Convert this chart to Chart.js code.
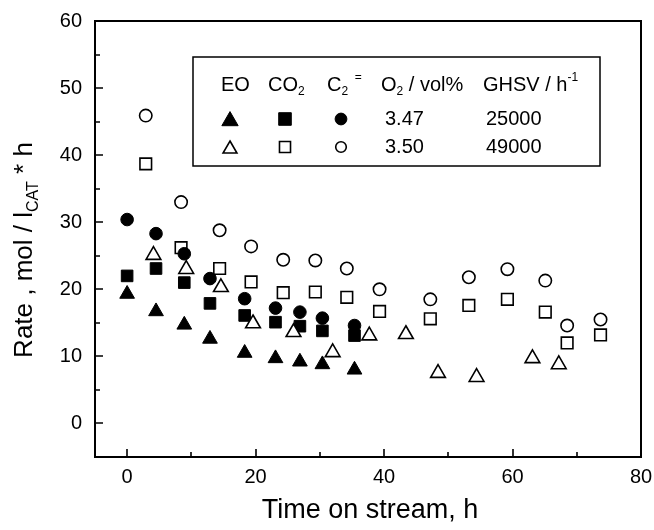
<!DOCTYPE html>
<html>
<head>
<meta charset="utf-8">
<title>Rate vs time on stream</title>
<script src="https://cdn.jsdelivr.net/npm/chart.js@4.4.1/dist/chart.umd.min.js"></script>
<style>
  html, body { margin: 0; padding: 0; background: #fff; }
  #wrap { width: 654px; height: 530px; }
</style>
</head>
<body>
<div id="wrap"><canvas id="rateChart" width="654" height="530"></canvas></div>
<script>
// run at 3.47 vol% O2, GHSV 25000 h-1 (filled symbols)
const timeLow = [0, 4.5, 8.9, 12.9, 18.3, 23.1, 26.9, 30.4, 35.4];
const eoLow = [19.3, 16.7, 14.7, 12.6, 10.5, 9.7, 9.2, 8.8, 8.0];
const co2Low = [22.0, 23.1, 21.0, 17.9, 16.1, 15.1, 14.5, 13.8, 13.1];
const c2Low = [30.4, 28.3, 25.3, 21.6, 18.6, 17.2, 16.6, 15.7, 14.6];

// run at 3.50 vol% O2, GHSV 49000 h-1 (open symbols)
const timeEoHigh = [4.1, 9.2, 14.6, 19.6, 25.9, 32.0, 37.7, 43.4, 48.4, 54.4, 63.1, 67.2];
const eoHigh = [25.1, 23.0, 20.3, 14.9, 13.6, 10.6, 13.1, 13.3, 7.5, 6.9, 9.7, 8.8];
const timeHigh = [2.9, 8.4, 14.4, 19.3, 24.3, 29.3, 34.2, 39.3, 47.2, 53.2, 59.2, 65.1, 68.5, 73.7];
const co2High = [38.7, 26.2, 23.1, 21.1, 19.5, 19.6, 18.8, 16.7, 15.6, 17.6, 18.5, 16.6, 12.0, 13.2];
const c2High = [45.9, 33.0, 28.8, 26.4, 24.4, 24.3, 23.1, 20.0, 18.5, 21.8, 23.0, 21.3, 14.6, 15.5];

const xTicks = [0, 20, 40, 60, 80];
const yTicks = [0, 10, 20, 30, 40, 50, 60];

const FONT = "'Liberation Sans', Arial, Helvetica, sans-serif";

function pts(xs, ys) {
  return xs.map((x, i) => ({ x: x, y: ys[i] }));
}

function series(label, xs, ys, style, filled, radius, order) {
  return {
    label: label,
    data: pts(xs, ys),
    pointStyle: style,
    pointRadius: radius,
    pointHoverRadius: radius,
    pointBackgroundColor: filled ? '#000' : '#fff',
    pointBorderColor: '#000',
    pointBorderWidth: filled ? 1 : 1.6,
    showLine: false,
    order: order
  };
}

// text with sub/superscripts: parts = [[text, 'sub'|'sup'|undefined], ...]
function richWidth(ctx, parts, size) {
  let w = 0;
  parts.forEach(p => {
    ctx.font = (p[1] ? Math.round(size * 0.62) : size) + 'px ' + FONT;
    w += ctx.measureText(p[0]).width;
  });
  return w;
}

function drawRich(ctx, parts, x, y, size, align, baseline) {
  let cx = x;
  if (align === 'center') cx = x - richWidth(ctx, parts, size) / 2;
  ctx.textBaseline = baseline || 'middle';
  ctx.textAlign = 'left';
  parts.forEach(p => {
    let dy = 0;
    if (p[1] === 'sub') dy = size * 0.32;
    if (p[1] === 'sup') dy = -size * 0.38;
    ctx.font = (p[1] ? Math.round(size * 0.62) : size) + 'px ' + FONT;
    ctx.fillText(p[0], cx, y + dy);
    cx += ctx.measureText(p[0]).width;
  });
}

function glyph(ctx, style, filled, x, y, r) {
  ctx.beginPath();
  if (style === 'triangle') {
    ctx.moveTo(x, y - r);
    ctx.lineTo(x + r * Math.sin(2 * Math.PI / 3), y + r / 2);
    ctx.lineTo(x - r * Math.sin(2 * Math.PI / 3), y + r / 2);
    ctx.closePath();
  } else if (style === 'rect') {
    const s = r * Math.SQRT1_2;
    ctx.rect(x - s, y - s, 2 * s, 2 * s);
  } else {
    ctx.arc(x, y, r, 0, Math.PI * 2);
  }
  ctx.fillStyle = filled ? '#000' : '#fff';
  ctx.fill();
  ctx.lineWidth = filled ? 1 : 1.6;
  ctx.strokeStyle = '#000';
  ctx.stroke();
}

// box around the plot, inward tick marks and axis titles
const framePlugin = {
  id: 'frame',
  afterDraw(chart) {
    const ctx = chart.ctx;
    const a = chart.chartArea;
    const xs = chart.scales.x, ys = chart.scales.y;
    ctx.save();
    ctx.strokeStyle = '#000';
    ctx.lineWidth = 2;
    ctx.strokeRect(a.left, a.top, a.right - a.left, a.bottom - a.top);
    ctx.lineWidth = 1.6;
    ctx.beginPath();
    for (let v = 0; v <= 80; v += 10) {
      const px = Math.round(xs.getPixelForValue(v));
      const len = v % 20 === 0 ? 8 : 5;
      ctx.moveTo(px, a.bottom);
      ctx.lineTo(px, a.bottom - len);
    }
    for (let v = 0; v <= 60; v += 5) {
      const py = Math.round(ys.getPixelForValue(v));
      const len = v % 10 === 0 ? 8 : 5;
      ctx.moveTo(a.left, py);
      ctx.lineTo(a.left + len, py);
    }
    ctx.stroke();

    ctx.fillStyle = '#000';
    drawRich(ctx, [['Time on stream, h']], 370, 518, 27, 'center', 'alphabetic');
    ctx.translate(25, 250);
    ctx.rotate(-Math.PI / 2);
    drawRich(ctx, [['Rate , mol / l'], ['CAT', 'sub'], [' * h']], 0, 0, 26, 'center');
    ctx.restore();
  }
};

// table-style key in the upper right
const keyPlugin = {
  id: 'key',
  afterDatasetsDraw(chart) {
    const ctx = chart.ctx;
    ctx.save();
    ctx.fillStyle = '#fff';
    ctx.fillRect(193, 57, 407, 109);
    ctx.strokeStyle = '#000';
    ctx.lineWidth = 1.5;
    ctx.strokeRect(193, 57, 407, 109);

    ctx.fillStyle = '#000';
    const fs = 20;
    const hy = 85, r1 = 119, r2 = 147;
    drawRich(ctx, [['EO']], 221, hy, fs);
    drawRich(ctx, [['CO'], ['2', 'sub']], 268, hy, fs);
    drawRich(ctx, [['C'], ['2', 'sub'], ['  =', 'sup']], 327, hy, fs);
    drawRich(ctx, [['O'], ['2', 'sub'], [' / vol%']], 381, hy, fs);
    drawRich(ctx, [['GHSV / h'], ['-1', 'sup']], 483, hy, fs);

    glyph(ctx, 'triangle', true, 230, r1 + 2, 9.4);
    glyph(ctx, 'rect', true, 285, r1, 8.9);
    glyph(ctx, 'circle', true, 341, r1, 5.9);
    glyph(ctx, 'triangle', false, 230, r2 + 2, 8);
    glyph(ctx, 'rect', false, 285, r2, 7.8);
    glyph(ctx, 'circle', false, 341, r2, 5.3);

    ctx.fillStyle = '#000';
    drawRich(ctx, [['3.47']], 385, r1, fs);
    drawRich(ctx, [['25000']], 486, r1, fs);
    drawRich(ctx, [['3.50']], 385, r2, fs);
    drawRich(ctx, [['49000']], 486, r2, fs);
    ctx.restore();
  }
};

const ctx = document.getElementById('rateChart').getContext('2d');
const rateChart = new Chart(ctx, {
  type: 'scatter',
  data: {
    datasets: [
      series('EO 3.50', timeEoHigh, eoHigh, 'triangle', false, 8.5, 0),
      series('C2= 3.47', timeLow, c2Low, 'circle', true, 6.3, 1),
      series('CO2 3.47', timeLow, co2Low, 'rect', true, 8.2, 2),
      series('EO 3.47', timeLow, eoLow, 'triangle', true, 8.5, 3),
      series('C2= 3.50', timeHigh, c2High, 'circle', false, 6.2, 4),
      series('CO2 3.50', timeHigh, co2High, 'rect', false, 8.2, 5)
    ]
  },
  options: {
    responsive: false,
    animation: false,
    layout: { padding: { left: 0, top: 21, right: 13, bottom: 0 } },
    plugins: {
      legend: { display: false },
      tooltip: { enabled: false },
      title: { display: false }
    },
    scales: {
      x: {
        type: 'linear',
        min: -5,
        max: 80,
        grid: { display: false },
        border: { display: false },
        afterBuildTicks: s => { s.ticks = xTicks.map(v => ({ value: v })); },
        ticks: {
          color: '#000',
          padding: 0,
          font: { family: FONT, size: 20 },
          maxRotation: 0
        },
        afterFit: s => { s.height = 73; }
      },
      y: {
        type: 'linear',
        min: -5,
        max: 60,
        grid: { display: false },
        border: { display: false },
        afterBuildTicks: s => { s.ticks = yTicks.map(v => ({ value: v })); },
        ticks: {
          color: '#000',
          padding: 5,
          font: { family: FONT, size: 20 }
        },
        afterFit: s => { s.width = 95; }
      }
    }
  },
  plugins: [framePlugin, keyPlugin]
});
</script>
</body>
</html>
